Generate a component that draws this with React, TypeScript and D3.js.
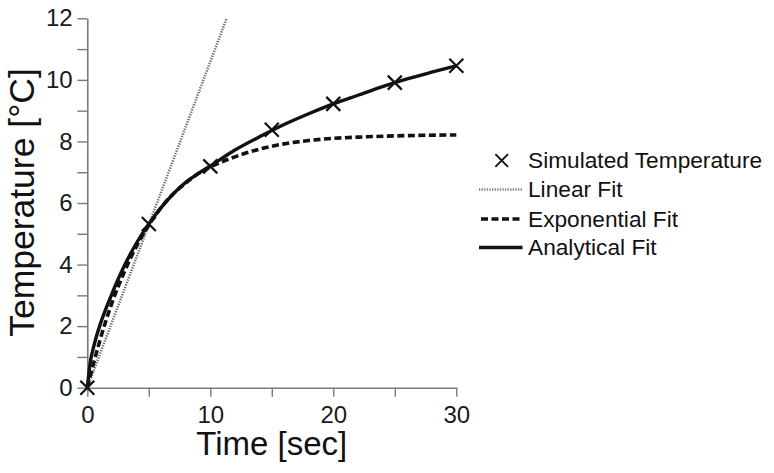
import React, { useEffect, useRef } from "react";
import * as d3 from "d3";

const simTime = [0, 5, 10, 15, 20, 25, 30];
const simTemp = [0, 5.32, 7.19, 8.38, 9.22, 9.91, 10.46];

const analyticalTime = [0, 0.25, 0.5, 1, 1.5, 2, 3, 4, 5, 6, 7, 8, 9, 10, 12, 14, 16, 18, 20, 22, 24, 26, 28, 30];
const analyticalTemp = [0, 0.85, 1.3, 2.0, 2.55, 3.05, 3.95, 4.7, 5.32, 5.85, 6.3, 6.67, 6.95, 7.2, 7.72, 8.15, 8.55, 8.9, 9.22, 9.5, 9.78, 10.03, 10.25, 10.46];

const expTime = [0, 0.5, 1, 2, 3, 4, 5, 6, 7, 8, 9, 10, 12, 14, 16, 18, 20, 22, 25, 30];
const expTemp = [0, 0.78, 1.5, 2.75, 3.75, 4.6, 5.28, 5.85, 6.3, 6.65, 6.95, 7.17, 7.5, 7.75, 7.92, 8.03, 8.1, 8.14, 8.18, 8.21];

const linTime = [0, 11.33];
const linTemp = [0, 12];

const xTicks = [0, 5, 10, 15, 20, 25, 30];
const yTicks = [0, 1, 2, 3, 4, 5, 6, 7, 8, 9, 10, 11, 12];

const legendLabels = ["Simulated Temperature", "Linear Fit", "Exponential Fit", "Analytical Fit"];

const FONT = "'Liberation Sans', Arial, Helvetica, sans-serif";

export default function App() {
  const xAxisRef = useRef<SVGGElement>(null);
  const yAxisRef = useRef<SVGGElement>(null);

  const x = d3.scaleLinear().domain([0, 30]).range([87.3, 456.3]);
  const y = d3.scaleLinear().domain([0, 12]).range([387.7, 18.3]);

  useEffect(() => {
    const xa = d3
      .axisBottom(x)
      .tickValues(xTicks)
      .tickSize(9)
      .tickSizeOuter(0)
      .tickPadding(9)
      .tickFormat((d: any) => (d % 10 === 0 ? String(d) : ""));
    const ya = d3
      .axisLeft(y)
      .tickValues(yTicks)
      .tickSize(10)
      .tickSizeOuter(0)
      .tickPadding(4.6)
      .tickFormat((d: any) => (d % 2 === 0 ? String(d) : ""));
    for (const [ref, ax] of [
      [xAxisRef, xa],
      [yAxisRef, ya],
    ] as any) {
      const g = d3.select(ref.current);
      g.call(ax);
      g.selectAll("path.domain").attr("stroke", "#7a7a7a").attr("stroke-width", 1.6);
      g.selectAll(".tick line").attr("stroke", "#7a7a7a").attr("stroke-width", 1.4);
      g.selectAll(".tick text")
        .attr("fill", "#1a1a1a")
        .style("font-family", FONT)
        .style("font-size", "24px");
    }
  }, []);

  const mk = (ts: number[], vs: number[]) =>
    d3
      .line<number>()
      .x((_, i) => x(ts[i]))
      .y((v) => y(v))
      .curve(d3.curveMonotoneX)(vs) as string;

  const cross = (cx: number, cy: number, r: number) =>
    `M${cx - r},${cy - r}L${cx + r},${cy + r}M${cx - r},${cy + r}L${cx + r},${cy - r}`;

  const legX0 = 479;
  const legX1 = 522.5;
  const legTextX = 528;
  const legBase = [168, 197, 226.5, 255];

  return (
    <svg
      width={774}
      height={473}
      style={{ position: "absolute", left: 0, top: 0, background: "#fff" }}
      fontFamily={FONT}
    >
      <rect width={774} height={473} fill="#fff" />
      <g ref={yAxisRef} transform={`translate(${x(0)},0)`} />
      <g ref={xAxisRef} transform={`translate(0,${y(0)})`} />

      <path d={mk(linTime, linTemp)} fill="none" stroke="#707070" strokeWidth={2.6} strokeDasharray="1.3,1.3" />
      <path d={mk(expTime, expTemp)} fill="none" stroke="#111" strokeWidth={3.6} strokeDasharray="7,3.5" />
      <path d={mk(analyticalTime, analyticalTemp)} fill="none" stroke="#111" strokeWidth={3.4} />
      {simTime.map((t, i) => (
        <path key={i} d={cross(x(t), y(simTemp[i]), 7)} stroke="#111" strokeWidth={2.2} fill="none" />
      ))}

      <text x={271.8} y={455} textAnchor="middle" fontSize={33} fill="#111">
        Time [sec]
      </text>
      <text transform={`translate(34,${(y(0) + y(12)) / 2 - 0.5}) rotate(-90)`} textAnchor="middle" fontSize={35.5} fill="#111">
        Temperature [°C]
      </text>

      {/* legend */}
      <path d={cross(501.7, legBase[0] - 7.5, 6.3)} stroke="#111" strokeWidth={1.9} fill="none" />
      <line x1={legX0} x2={legX1} y1={legBase[1] - 7.5} y2={legBase[1] - 7.5} stroke="#808080" strokeWidth={2.4} strokeDasharray="1.3,1.3" />
      <line x1={legX0 + 2} x2={legX1} y1={legBase[2] - 7.5} y2={legBase[2] - 7.5} stroke="#111" strokeWidth={3.4} strokeDasharray="7,3.5" />
      <line x1={legX0} x2={legX1} y1={legBase[3] - 7.5} y2={legBase[3] - 7.5} stroke="#111" strokeWidth={3.4} />
      {legendLabels.map((l, i) => (
        <text key={l} x={legTextX} y={legBase[i]} fontSize={22.7} fill="#111">
          {l}
        </text>
      ))}
    </svg>
  );
}
